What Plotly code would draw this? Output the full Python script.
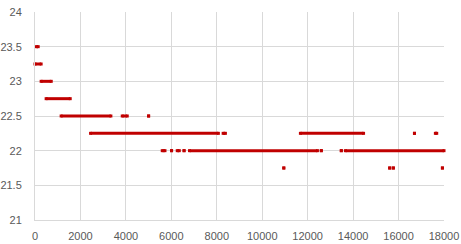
import plotly.graph_objects as go

# Horizontal runs of readings: level, first x, last x
seg_y  = [23.5, 23.25, 23.0, 22.75, 22.5, 22.5, 22.5,
          22.25, 22.25, 22.25, 22.25, 22.25,
          22.0, 22.0, 22.0, 22.0, 22.0, 22.0, 22.0, 22.0,
          21.75, 21.75, 21.75, 21.75]
seg_x0 = [60, 0, 270, 490, 1150, 3840, 5000,
          2445, 8280, 11680, 16700, 17620,
          5600, 6010, 6260, 6560, 6800, 12600, 13480, 13660,
          10950, 15610, 15770, 17930]
seg_x1 = [140, 270, 715, 1550, 3340, 4060, 5000,
          8070, 8380, 14460, 16700, 17680,
          5720, 6010, 6350, 6560, 12430, 12600, 13480, 18000,
          10950, 15610, 15770, 17930]

x_ticks = list(range(0, 18001, 2000))
y_ticks = [21, 21.5, 22, 22.5, 23, 23.5, 24]

xs, ys = [], []
for y, a, b in zip(seg_y, seg_x0, seg_x1):
    xs += [a, b, None]
    ys += [y, y, None]

color = "#C00000"
fig = go.Figure(go.Scatter(
    x=xs, y=ys, mode="lines+markers",
    line=dict(color=color, width=3),
    marker=dict(symbol="square", size=3, color=color, line=dict(width=0)),
    connectgaps=False, showlegend=False, cliponaxis=False,
))

grid = "#D9D9D9"
fig.update_layout(
    width=461, height=244,
    margin=dict(l=35, r=17, t=12, b=24, autoexpand=False),
    paper_bgcolor="white", plot_bgcolor="white",
    font=dict(family="Liberation Sans, Arial, sans-serif", size=11, color="#595959"),
    xaxis=dict(range=[0, 18000], tickvals=x_ticks, ticktext=[str(v) for v in x_ticks],
               showgrid=True, gridcolor=grid, gridwidth=1,
               showline=True, linecolor=grid, linewidth=1,
               zeroline=False, ticks="", ticklen=0, automargin=False,
               ticklabelstandoff=6),
    yaxis=dict(range=[21, 24], tickvals=y_ticks, ticktext=[("%g" % v) for v in y_ticks],
               showgrid=True, gridcolor=grid, gridwidth=1,
               showline=True, linecolor=grid, linewidth=1,
               zeroline=False, ticks="", ticklen=0, automargin=False,
               ticklabelstandoff=10),
)
fig.write_html("out.html")
